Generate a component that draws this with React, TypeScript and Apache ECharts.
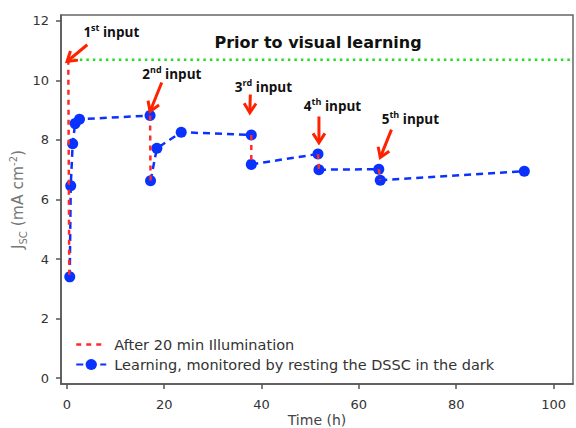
import React, { useEffect, useRef } from "react";
import * as echarts from "echarts";

// Data (time in h, Jsc in mA cm^-2)
const xTicks = [0, 20, 40, 60, 80, 100];
const yTicks = [0, 2, 4, 6, 8, 10, 12];
const learningData: (number[] | string)[] = [
  [0.6, 3.4], [0.8, 6.46], [1.2, 7.87], [1.7, 8.55], [2.6, 8.7], [17.1, 8.82],
  "-",
  [17.2, 6.63], [18.5, 7.72], [23.5, 8.26], [37.9, 8.17],
  "-",
  [37.9, 7.18], [51.6, 7.53],
  "-",
  [51.8, 7.0], [64.1, 7.02],
  "-",
  [64.4, 6.65], [94, 6.95],
];
const illumData: (number[] | string)[] = [
  [0.3, 10.7], [0.5, 3.4],
  "-",
  [17.1, 8.82], [17.2, 6.63],
  "-",
  [37.9, 8.17], [37.9, 7.18],
  "-",
  [51.6, 7.53], [51.8, 7.0],
  "-",
  [64.1, 7.02], [64.4, 6.65],
];
const priorLevel = 10.7;
const priorLine = [[0, priorLevel], [104, priorLevel]];
const inputOrdinals = ["1", "2", "3", "4", "5"];
const inputSuffix = ["st", "nd", "rd", "th", "th"];
const arrowTips = [[0.05, 10.64], [17.1, 8.96], [37.6, 8.92], [51.8, 7.91], [64.4, 7.41]];
const arrowTails = [[4.2, 11.2], [19.5, 9.93], [37.7, 9.53], [51.8, 8.79], [66.7, 8.35]];
const labelAt = [[3.4, 11.62], [15.5, 10.22], [34.5, 9.78], [48.7, 9.14], [64.7, 8.7]];

const arrowData = arrowTips.map((t, i) => [
  t[0], t[1], arrowTails[i][0], arrowTails[i][1], labelAt[i][0], labelAt[i][1], i,
]);

const RED_NAME = "After 20 min Illumination";
const BLUE_NAME = "Learning, monitored by resting the DSSC in the dark";

export default function App() {
  const ref = useRef<HTMLDivElement>(null);
  useEffect(() => {
    if (!ref.current) return;
    const chart = echarts.init(ref.current, null, { renderer: "svg" });
    const font = "DejaVu Sans";
    const axisColor = "#555";
    const red = "#ff2a2a";
    const blue = "#0a32ff";
    chart.setOption({
      animation: false,
      textStyle: { fontFamily: font },
      title: {
        text: "Prior to visual learning",
        left: 313,
        top: 29,
        textAlign: "center",
        textStyle: { fontFamily: font, fontWeight: "bold", fontSize: 16, color: "#111" },
      },
      grid: {
        left: 61, right: 3, top: 15, bottom: 44,
        outerBoundsMode: "none",
        containLabel: false,
        show: true, borderColor: "#666", borderWidth: 1.5, backgroundColor: "#fff",
      },
      legend: {
        orient: "vertical",
        left: 70,
        top: 332,
        itemGap: 5,
        itemWidth: 30,
        itemHeight: 14,
        data: [
          {
            name: RED_NAME,
            itemStyle: { opacity: 0 },
            lineStyle: { color: red, width: 2.5, type: [5, 5], opacity: 1 },
          },
          { name: BLUE_NAME },
        ],
        textStyle: { fontFamily: font, fontSize: 14.5, color: "#333", padding: [0, 0, 0, 3] },
      },
      xAxis: {
        type: "value",
        min: -1.2,
        max: 104,
        name: "Time (h)",
        nameLocation: "middle",
        nameGap: 29,
        nameMoveOverlap: false,
        nameTextStyle: { fontFamily: font, fontSize: 14, color: "#444" },
        axisLine: { show: true, onZero: false, lineStyle: { color: axisColor, width: 1.5 } },
        axisTick: { show: true, length: 5, customValues: xTicks, lineStyle: { color: axisColor, width: 1.5 } },
        axisLabel: { customValues: xTicks, margin: 14, fontSize: 13, color: "#333", fontFamily: font },
        splitLine: { show: false },
      },
      yAxis: {
        type: "value",
        min: -0.2,
        max: 12.2,
        name: "{n|J}{sub|SC}{n| (mA cm}{sup|-2}{n|)}",
        nameLocation: "middle",
        nameRotate: 90,
        nameGap: 33,
        nameMoveOverlap: false,
        nameTextStyle: {
          color: "#777",
          rich: {
            n: { fontFamily: font, fontSize: 15.5, color: "#777", lineHeight: 20 },
            sub: { fontFamily: font, fontSize: 10, color: "#777", verticalAlign: "bottom", lineHeight: 14 },
            sup: { fontFamily: font, fontSize: 10, color: "#777", verticalAlign: "top", lineHeight: 20 },
          },
        },
        axisLine: { show: true, onZero: false, lineStyle: { color: axisColor, width: 1.5 } },
        axisTick: { show: true, length: 5, customValues: yTicks, lineStyle: { color: axisColor, width: 1.5 } },
        axisLabel: { customValues: yTicks, margin: 12, fontSize: 13, color: "#333", fontFamily: font },
        splitLine: { show: false },
      },
      series: [
        {
          name: "prior",
          type: "line",
          data: priorLine,
          symbol: "none",
          silent: true,
          lineStyle: { color: "#22dd22", width: 2.5, type: [2.5, 4] },
          z: 1,
        },
        {
          name: BLUE_NAME,
          type: "line",
          data: learningData,
          connectNulls: false,
          symbol: "circle",
          symbolSize: 11,
          itemStyle: { color: blue },
          lineStyle: { color: blue, width: 2.5, type: [7, 5] },
          z: 2,
        },
        {
          name: RED_NAME,
          type: "line",
          data: illumData,
          connectNulls: false,
          symbol: "none",
          itemStyle: { color: red },
          lineStyle: { color: red, width: 2.5, type: [5, 5] },
          z: 3,
        },
        {
          name: "arrows",
          type: "custom",
          data: arrowData,
          z: 4,
          silent: true,
          clip: false,
          encode: { x: 0, y: 1 },
          renderItem: (params: any, api: any) => {
            const tip = api.coord([api.value(0), api.value(1)]);
            const tail = api.coord([api.value(2), api.value(3)]);
            const lab = api.coord([api.value(4), api.value(5)]);
            const idx = api.value(6);
            const dx = tip[0] - tail[0];
            const dy = tip[1] - tail[1];
            const len = Math.sqrt(dx * dx + dy * dy) || 1;
            const ux = dx / len, uy = dy / len;
            const ah = 11, ang = Math.PI / 5.5;
            const rot = (a: number) => [
              -(ux * Math.cos(a) - uy * Math.sin(a)),
              -(ux * Math.sin(a) + uy * Math.cos(a)),
            ];
            const r1 = rot(ang), r2 = rot(-ang);
            const ared = "#ff2200";
            return {
              type: "group",
              children: [
                {
                  type: "line",
                  shape: { x1: tail[0], y1: tail[1], x2: tip[0] - ux * 1.5, y2: tip[1] - uy * 1.5 },
                  style: { stroke: ared, lineWidth: 3 },
                },
                {
                  type: "polyline",
                  shape: {
                    points: [
                      [tip[0] + r1[0] * ah, tip[1] + r1[1] * ah],
                      [tip[0], tip[1]],
                      [tip[0] + r2[0] * ah, tip[1] + r2[1] * ah],
                    ],
                  },
                  style: { stroke: ared, lineWidth: 3, fill: null, lineJoin: "miter" },
                },
                {
                  type: "text",
                  x: lab[0],
                  y: lab[1],
                  style: {
                    text: "{n|" + inputOrdinals[idx] + "}{s|" + inputSuffix[idx] + "}{n| input}",
                    verticalAlign: "middle",
                    align: "left",
                    rich: {
                      n: { fontFamily: "Open Sans", fontWeight: "bold", fontSize: 13.5, fill: "#111", lineHeight: 18 },
                      s: { fontFamily: "Open Sans", fontWeight: "bold", fontSize: 9, fill: "#111", verticalAlign: "top", lineHeight: 18 },
                    },
                  },
                },
              ],
            };
          },
        },
      ],
    });
    return () => chart.dispose();
  }, []);
  return <div ref={ref} style={{ position: "absolute", left: 0, top: 0, width: 576, height: 428 }} />;
}
